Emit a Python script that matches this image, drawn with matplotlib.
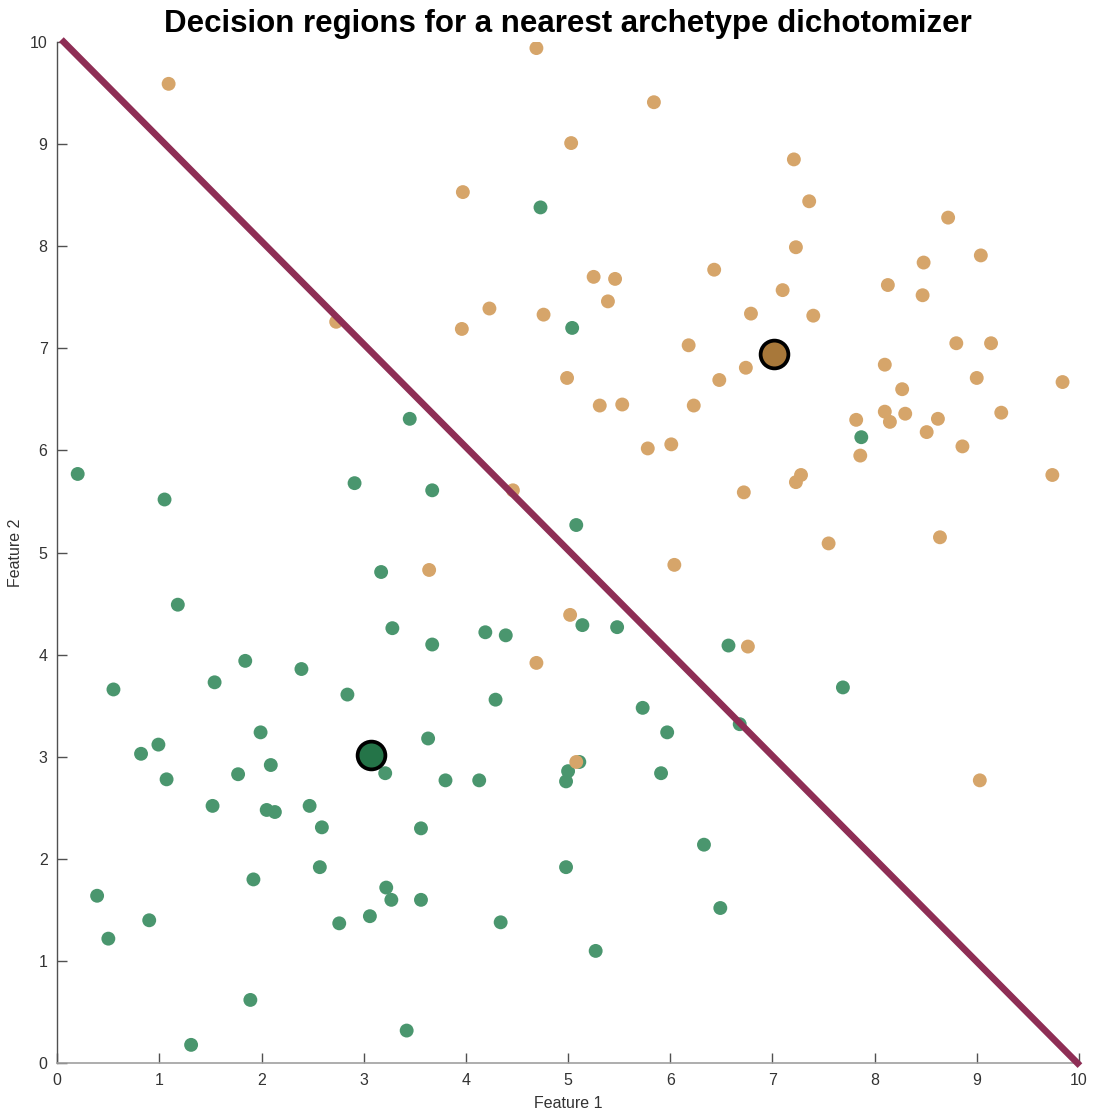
import numpy as np
import matplotlib
matplotlib.use("Agg")
import matplotlib.pyplot as plt

plt.rcParams['font.family'] = ['Liberation Sans', 'DejaVu Sans']

# class A samples (lower left cluster)
class_a_x = [4.73, 5.04, 3.45, 7.87, 0.20, 2.91, 3.67, 1.05, 5.08, 3.17,
             1.18, 5.14, 5.48, 3.28, 4.19, 4.39, 3.67, 6.57, 1.84, 2.39,
             1.54, 7.69, 0.55, 2.84, 4.29, 5.73, 6.68, 1.99, 5.97, 3.63,
             0.99, 0.82, 5.11, 2.09, 3.21, 5.91, 1.77, 5.00, 1.07, 3.80,
             4.13, 4.98, 1.52, 2.47, 2.05, 2.13, 2.59, 3.56, 6.33, 2.57,
             4.98, 1.92, 3.22, 0.39, 3.27, 3.56, 6.49, 3.06, 0.90, 4.34,
             2.76, 0.50, 5.27, 1.89, 3.42, 1.31]
class_a_y = [8.38, 7.20, 6.31, 6.13, 5.77, 5.68, 5.61, 5.52, 5.27, 4.81,
             4.49, 4.29, 4.27, 4.26, 4.22, 4.19, 4.10, 4.09, 3.94, 3.86,
             3.73, 3.68, 3.66, 3.61, 3.56, 3.48, 3.32, 3.24, 3.24, 3.18,
             3.12, 3.03, 2.95, 2.92, 2.84, 2.84, 2.83, 2.86, 2.78, 2.77,
             2.77, 2.76, 2.52, 2.52, 2.48, 2.46, 2.31, 2.30, 2.14, 1.92,
             1.92, 1.80, 1.72, 1.64, 1.60, 1.60, 1.52, 1.44, 1.40, 1.38,
             1.37, 1.22, 1.10, 0.62, 0.32, 0.18]

# class B samples (upper right cluster)
class_b_x = [1.09, 4.69, 5.84, 5.03, 7.21, 3.97, 7.36, 8.72, 7.23, 9.04,
             8.48, 6.43, 5.25, 5.46, 8.13, 7.10, 8.47, 5.39, 4.23, 6.79,
             4.76, 7.40, 2.73, 3.96, 8.80, 9.14, 6.18, 8.10, 6.74, 4.99,
             9.00, 6.48, 9.84, 8.27, 5.31, 5.53, 6.23, 8.10, 8.30, 9.24,
             7.82, 8.15, 8.62, 8.51, 6.01, 5.78, 8.86, 7.86, 7.28, 7.23,
             9.74, 6.72, 4.46, 7.55, 8.64, 6.04, 3.64, 5.02, 6.76, 4.69,
             5.08, 9.03, 6.94]
class_b_y = [9.59, 9.94, 9.41, 9.01, 8.85, 8.53, 8.44, 8.28, 7.99, 7.91,
             7.84, 7.77, 7.70, 7.68, 7.62, 7.57, 7.52, 7.46, 7.39, 7.34,
             7.33, 7.32, 7.26, 7.19, 7.05, 7.05, 7.03, 6.84, 6.81, 6.71,
             6.71, 6.69, 6.67, 6.60, 6.44, 6.45, 6.44, 6.38, 6.36, 6.37,
             6.30, 6.28, 6.31, 6.18, 6.06, 6.02, 6.04, 5.95, 5.76, 5.69,
             5.76, 5.59, 5.61, 5.09, 5.15, 4.88, 4.83, 4.39, 4.08, 3.92,
             2.95, 2.77, 6.96]

# archetypes (one per class)
archetype_a = (3.07, 3.02)
archetype_b = (7.02, 6.94)

green = '#4a966e'
orange = '#d6a56a'
green_dark = '#247448'
orange_dark = '#a8783a'
line_color = '#8e2e55'

fig = plt.figure(figsize=(10.95, 11.13), dpi=100)
ax = fig.add_axes([0.0523, 0.0447, 0.9330, 0.9176])

ax.scatter(class_a_x, class_a_y, s=100, color=green, edgecolors='none', zorder=2)
ax.scatter(class_b_x, class_b_y, s=100, color=orange, edgecolors='none', zorder=2)

# decision boundary: perpendicular bisector of the two archetypes
pa = np.array(archetype_a)
pb = np.array(archetype_b)
mid = (pa + pb) / 2
n = pb - pa
ys = np.array([10.0, 0.0])
xs = mid[0] - n[1] * (ys - mid[1]) / n[0]
ax.plot(xs, ys, color=line_color, linewidth=4.8, zorder=3, clip_on=False)

ax.plot(*archetype_a, 'o', markersize=20, color=green_dark,
        markeredgecolor='black', markeredgewidth=2.7, zorder=4)
ax.plot(*archetype_b, 'o', markersize=20, color=orange_dark,
        markeredgecolor='black', markeredgewidth=2.7, zorder=4)

ax.set_xlim(0, 10)
ax.set_ylim(0, 10)
ax.set_xticks(range(11))
ax.set_yticks(range(11))
ax.spines['top'].set_visible(False)
ax.spines['right'].set_visible(False)
ax.spines['left'].set_color('#505050')
ax.spines['bottom'].set_color('#a0a0a0')
ax.spines['left'].set_linewidth(1.0)
ax.spines['bottom'].set_linewidth(1.2)
ax.tick_params(direction='in', length=7, width=1, color='#505050',
               labelsize=11.5, labelcolor='#333333', pad=7)

ax.set_xlabel('Feature 1', fontsize=11.5, color='#333333', labelpad=6)
ax.set_ylabel('Feature 2', fontsize=11.5, color='#333333', labelpad=5)
ax.set_title('Decision regions for a nearest archetype dichotomizer',
             fontsize=22.5, fontweight='bold', pad=7)

fig.savefig('out.png', dpi=100)
